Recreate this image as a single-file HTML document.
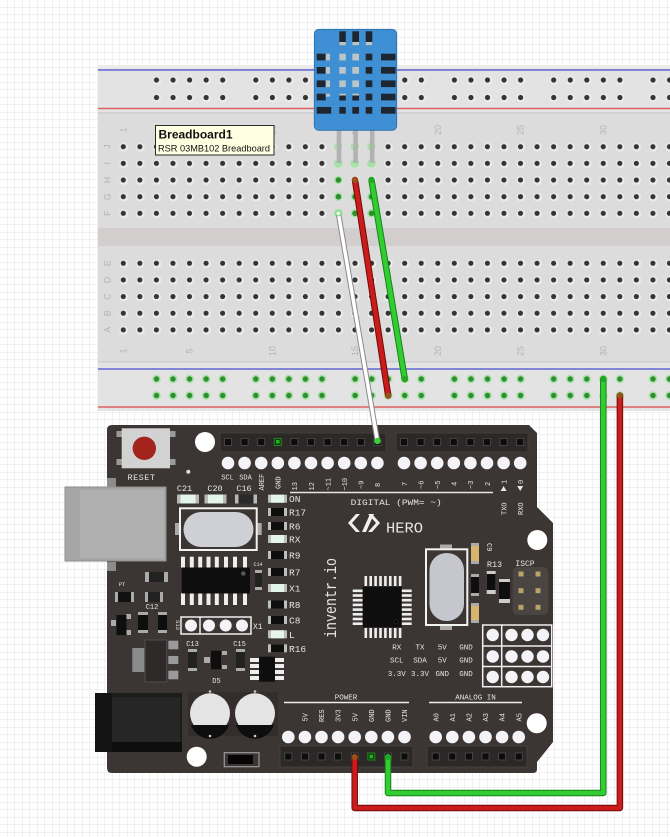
<!DOCTYPE html>
<html><head><meta charset="utf-8"><style>
html,body{margin:0;padding:0;background:#fff;overflow:hidden}
svg{display:block}
.s{font-family:"Liberation Mono",monospace;fill:#e6e6e6}
.bl{font-family:"Liberation Sans",sans-serif;fill:#b4b4b4;font-size:9px}
</style></head><body>
<svg width="670" height="837" viewBox="0 0 670 837" xmlns="http://www.w3.org/2000/svg">
<defs>
<pattern id="grid" width="7.5" height="7.5" patternUnits="userSpaceOnUse"><path d="M7.5 0V7.5H0" fill="none" stroke="#e3e3ea" stroke-width="1"/></pattern>
<pattern id="hole" x="115.025" y="138.375" width="16.55" height="16.65" patternUnits="userSpaceOnUse"><circle cx="8.7" cy="8.8" r="4.3" fill="#ececec"/><circle cx="8.275" cy="8.325" r="2.6" fill="#343434"/></pattern>
<pattern id="rail" width="99.3" height="20" patternUnits="userSpaceOnUse">
<g fill="#ececec"><circle cx="8.7" cy="10.4" r="4.3"/><circle cx="25.25" cy="10.4" r="4.3"/><circle cx="41.8" cy="10.4" r="4.3"/><circle cx="58.35" cy="10.4" r="4.3"/><circle cx="74.9" cy="10.4" r="4.3"/></g>
<g fill="#343434"><circle cx="8.275" cy="10" r="2.6"/><circle cx="24.825" cy="10" r="2.6"/><circle cx="41.375" cy="10" r="2.6"/><circle cx="57.925" cy="10" r="2.6"/><circle cx="74.475" cy="10" r="2.6"/></g>
</pattern>
<pattern id="railg" width="99.3" height="20" patternUnits="userSpaceOnUse">
<g fill="#a6e2a6"><circle cx="8.275" cy="10" r="4.3"/><circle cx="24.825" cy="10" r="4.3"/><circle cx="41.375" cy="10" r="4.3"/><circle cx="57.925" cy="10" r="4.3"/><circle cx="74.475" cy="10" r="4.3"/></g>
<g fill="#2f8f2f"><circle cx="8.275" cy="10" r="2.7"/><circle cx="24.825" cy="10" r="2.7"/><circle cx="41.375" cy="10" r="2.7"/><circle cx="57.925" cy="10" r="2.7"/><circle cx="74.475" cy="10" r="2.7"/></g>
</pattern>
</defs>

<rect width="670" height="837" fill="#fff"/>
<rect width="670" height="837" fill="url(#grid)"/>

<!-- Breadboard -->
<rect x="98" y="65" width="580" height="346" fill="#dcdcdc"/>
<rect x="98" y="65" width="580" height="48" fill="#e3e3e3"/>
<rect x="98" y="65" width="580" height="3" fill="#ececec"/>
<rect x="98" y="112" width="580" height="2" fill="#d2d2d2"/>
<rect x="98" y="228" width="580" height="18" fill="#d1cecd"/>
<rect x="98" y="362" width="580" height="49" fill="#e3e3e3"/>
<rect x="98" y="361" width="580" height="1.5" fill="#cfcfcf"/>
<line x1="98" y1="70" x2="678" y2="70" stroke="#4b4bd0" stroke-width="1.3"/>
<line x1="98" y1="108.5" x2="678" y2="108.5" stroke="#e06262" stroke-width="1.4"/>
<line x1="98" y1="369" x2="678" y2="369" stroke="#4b4bd0" stroke-width="1.3"/>
<line x1="98" y1="407" x2="678" y2="407" stroke="#e06262" stroke-width="1.4"/>

<rect x="115" y="138.375" width="570" height="83.25" fill="url(#hole)"/>
<rect x="115" y="254.925" width="570" height="83.25" fill="url(#hole)"/>
<rect x="0" y="0" width="540" height="20" fill="url(#rail)" transform="translate(148.225,70)"/>
<rect x="0" y="0" width="540" height="20" fill="url(#rail)" transform="translate(148.225,87.5)"/>
<rect x="0" y="0" width="540" height="20" fill="url(#railg)" transform="translate(148.225,369)"/>
<rect x="0" y="0" width="540" height="20" fill="url(#railg)" transform="translate(148.225,385.5)"/>

<!-- column numbers -->
<g class="bl" text-anchor="middle">
<text transform="translate(126.3,130) rotate(-90)">1</text>
<text transform="translate(192.5,130) rotate(-90)">5</text>
<text transform="translate(275.3,130) rotate(-90)">10</text>
<text transform="translate(358,130) rotate(-90)">15</text>
<text transform="translate(440.8,130) rotate(-90)">20</text>
<text transform="translate(523.6,130) rotate(-90)">25</text>
<text transform="translate(606.3,130) rotate(-90)">30</text>
<text transform="translate(126.3,351) rotate(-90)">1</text>
<text transform="translate(192.5,351) rotate(-90)">5</text>
<text transform="translate(275.3,351) rotate(-90)">10</text>
<text transform="translate(358,351) rotate(-90)">15</text>
<text transform="translate(440.8,351) rotate(-90)">20</text>
<text transform="translate(523.6,351) rotate(-90)">25</text>
<text transform="translate(606.3,351) rotate(-90)">30</text>
<text transform="translate(110.5,146.7) rotate(-90)">J</text>
<text transform="translate(110.5,163.3) rotate(-90)">I</text>
<text transform="translate(110.5,180) rotate(-90)">H</text>
<text transform="translate(110.5,196.7) rotate(-90)">G</text>
<text transform="translate(110.5,213.3) rotate(-90)">F</text>
<text transform="translate(110.5,263.3) rotate(-90)">E</text>
<text transform="translate(110.5,280) rotate(-90)">D</text>
<text transform="translate(110.5,296.6) rotate(-90)">C</text>
<text transform="translate(110.5,313.2) rotate(-90)">B</text>
<text transform="translate(110.5,329.8) rotate(-90)">A</text>
</g>

<!-- green highlighted holes cols 14-16 -->
<g fill="#a6e2a6">
<circle cx="338.4" cy="146.7" r="4.3"/><circle cx="355" cy="146.7" r="4.3"/><circle cx="371.5" cy="146.7" r="4.3"/>
<circle cx="338.4" cy="163.3" r="4.5"/><circle cx="355" cy="163.3" r="4.5"/><circle cx="371.5" cy="163.3" r="4.5"/>
<circle cx="338.4" cy="180" r="4.3"/>
<circle cx="338.4" cy="196.7" r="4.3"/><circle cx="355" cy="196.7" r="4.3"/><circle cx="371.5" cy="196.7" r="4.3"/>
<circle cx="338.4" cy="213.3" r="4.5"/><circle cx="355" cy="213.3" r="4.3"/><circle cx="371.5" cy="213.3" r="4.3"/>
</g>
<g fill="#2f8f2f">
<circle cx="338.4" cy="180" r="2.8"/>
<circle cx="338.4" cy="196.7" r="2.8"/><circle cx="355" cy="196.7" r="2.8"/><circle cx="371.5" cy="196.7" r="2.8"/>
<circle cx="355" cy="213.3" r="2.8"/><circle cx="371.5" cy="213.3" r="2.8"/>
</g>

<!-- DHT11 sensor -->
<rect x="336.7" y="125" width="4.6" height="38" fill="#b2b2b2"/>
<rect x="353.3" y="125" width="4.6" height="38" fill="#b2b2b2"/>
<rect x="369.9" y="125" width="4.6" height="38" fill="#b2b2b2"/>
<rect x="314.3" y="29.3" width="82.4" height="101" rx="4.5" fill="#3e8fd3" stroke="#2c6ea6" stroke-width="0.8"/>
<g fill="#1e2631">
<rect x="339.3" y="31.3" width="6.5" height="14"/><rect x="352.3" y="31.3" width="6.7" height="14"/><rect x="365.7" y="31.3" width="6.6" height="14"/>
<rect x="316.7" y="53.7" width="9" height="6.7"/><rect x="316.7" y="67" width="9" height="6.7"/><rect x="316.7" y="80.4" width="9" height="6.7"/><rect x="316.7" y="93.7" width="9" height="6.7"/><rect x="316.7" y="107" width="14.5" height="6.7"/>
<rect x="339.3" y="95.5" width="6.5" height="5"/><rect x="352.3" y="95.5" width="6.7" height="5"/>
<rect x="339.3" y="107" width="6.5" height="6.7"/><rect x="352.3" y="107" width="6.7" height="6.7"/>
<rect x="365.7" y="53.7" width="6.6" height="6.7"/><rect x="365.7" y="67" width="6.6" height="6.7"/><rect x="365.7" y="80.4" width="6.6" height="6.7"/><rect x="365.7" y="93.7" width="6.6" height="6.7"/><rect x="365.7" y="107" width="6.6" height="6.7"/>
<rect x="381" y="53.7" width="14.5" height="6.7"/><rect x="381" y="67" width="14.5" height="6.7"/><rect x="381" y="80.4" width="14.5" height="6.7"/><rect x="381" y="93.7" width="14.5" height="6.7"/><rect x="381" y="107" width="14.5" height="6.7"/>
</g>
<g fill="#b9c5c9">
<rect x="339.3" y="42" width="6.5" height="3.3"/><rect x="352.3" y="42" width="6.7" height="3.3"/><rect x="365.7" y="42" width="6.6" height="3.3"/>
<rect x="325.7" y="53.7" width="4.3" height="6.7"/><rect x="325.7" y="67" width="4.3" height="6.7"/><rect x="325.7" y="80.4" width="4.3" height="6.7"/><rect x="325.7" y="93.7" width="4.3" height="3"/>
<rect x="339.3" y="53.7" width="6.5" height="6.7"/><rect x="339.3" y="67" width="6.5" height="6.7"/><rect x="339.3" y="80.4" width="6.5" height="6.7"/><rect x="339.3" y="93.7" width="6.5" height="1.8"/>
<rect x="352.3" y="53.7" width="6.7" height="6.7"/><rect x="352.3" y="67" width="6.7" height="6.7"/><rect x="352.3" y="80.4" width="6.7" height="6.7"/><rect x="352.3" y="93.7" width="6.7" height="1.8"/>
</g>

<!-- tooltip -->
<rect x="155.5" y="125.5" width="118.5" height="29.5" fill="#ffffe1" stroke="#2a2a2a" stroke-width="1"/>
<text x="158.5" y="138.5" font-family="Liberation Sans,sans-serif" font-weight="bold" font-size="12" fill="#111">Breadboard1</text>
<text x="158" y="151.7" font-family="Liberation Sans,sans-serif" font-size="9.4" fill="#111" textLength="112" lengthAdjust="spacingAndGlyphs">RSR 03MB102 Breadboard</text>

<!-- Arduino board -->
<path d="M112,425 L529,425 L537,433 L537,507 L553,523 L553,742 L537,762 L537,769 Q537,773 533,773 L112,773 Q107,773 107,768 L107,430 Q107,425 112,425 Z" fill="#3b3533"/>

<!-- USB -->
<rect x="107" y="478" width="9" height="9" fill="#8c8c8c"/>
<rect x="107" y="562" width="9" height="9" fill="#8c8c8c"/>
<rect x="65" y="487" width="101" height="74" fill="#a6a6a6"/>
<rect x="80" y="490" width="84" height="68" fill="#b0b0b0"/>
<rect x="65" y="487" width="101" height="74" fill="none" stroke="#8e8e8e" stroke-width="1"/>

<!-- Reset -->
<g fill="#9a9a9a"><rect x="116.5" y="431" width="6" height="6"/><rect x="116.5" y="459" width="6" height="6"/><rect x="169.5" y="431" width="6" height="6"/><rect x="169.5" y="459" width="6" height="6"/></g>
<rect x="121.7" y="428.3" width="48.3" height="40" fill="#d2d2d2"/>
<circle cx="144.3" cy="448.3" r="11.7" fill="#a3241d"/>
<text class="s" x="141.5" y="480" font-size="8.5" text-anchor="middle" letter-spacing="0.5">RESET</text>
<circle cx="188.3" cy="471.7" r="2" fill="#ddd"/>

<!-- mounting holes -->
<circle cx="205" cy="442" r="10" fill="#fff"/>
<circle cx="537.3" cy="540" r="10" fill="#fff"/>
<circle cx="196.7" cy="756.7" r="10" fill="#fff"/>
<circle cx="536.7" cy="723.3" r="10" fill="#fff"/>

<!-- top headers -->
<rect x="220" y="433" width="166" height="19" fill="#2c2827" stroke="#454040" stroke-width="0.8"/>
<rect x="396" y="433" width="132" height="19" fill="#2c2827" stroke="#454040" stroke-width="0.8"/>
<g fill="#0c0c0c" stroke="#4e4e4e" stroke-width="0.8">
<rect x="224.5" y="438.5" width="7" height="7"/><rect x="241.1" y="438.5" width="7" height="7"/><rect x="257.7" y="438.5" width="7" height="7"/><rect x="290.9" y="438.5" width="7" height="7"/><rect x="307.5" y="438.5" width="7" height="7"/><rect x="324.1" y="438.5" width="7" height="7"/><rect x="340.7" y="438.5" width="7" height="7"/><rect x="357.3" y="438.5" width="7" height="7"/><rect x="373.9" y="438.5" width="7" height="7"/>
<rect x="400.5" y="438.5" width="7" height="7"/><rect x="417.1" y="438.5" width="7" height="7"/><rect x="433.7" y="438.5" width="7" height="7"/><rect x="450.3" y="438.5" width="7" height="7"/><rect x="466.9" y="438.5" width="7" height="7"/><rect x="483.5" y="438.5" width="7" height="7"/><rect x="500.1" y="438.5" width="7" height="7"/><rect x="516.7" y="438.5" width="7" height="7"/>
</g>
<rect x="274.3" y="438.5" width="7" height="7" fill="#0c3a0c" stroke="#1e8a1e" stroke-width="1"/>
<rect x="276" y="440" width="3.6" height="3.6" fill="#25b025"/>
<g fill="#f4f4f8">
<circle cx="228" cy="463" r="6.3"/><circle cx="244.6" cy="463" r="6.3"/><circle cx="261.2" cy="463" r="6.3"/><circle cx="277.8" cy="463" r="6.3"/><circle cx="294.4" cy="463" r="6.3"/><circle cx="311" cy="463" r="6.3"/><circle cx="327.6" cy="463" r="6.3"/><circle cx="344.2" cy="463" r="6.3"/><circle cx="360.8" cy="463" r="6.3"/><circle cx="377.4" cy="463" r="6.3"/>
<circle cx="404" cy="463" r="6.3"/><circle cx="420.6" cy="463" r="6.3"/><circle cx="437.2" cy="463" r="6.3"/><circle cx="453.8" cy="463" r="6.3"/><circle cx="470.4" cy="463" r="6.3"/><circle cx="487" cy="463" r="6.3"/><circle cx="503.6" cy="463" r="6.3"/><circle cx="520.2" cy="463" r="6.3"/>
</g>
<g class="s" font-size="7">
<text x="227.5" y="479.5" text-anchor="middle">SCL</text>
<text x="245.5" y="479.5" text-anchor="middle">SDA</text>
<text transform="translate(264,490.5) rotate(-90)">AREF</text>
<text transform="translate(280.6,489) rotate(-90)">GND</text>
<text transform="translate(297.2,490.5) rotate(-90)">13</text>
<text transform="translate(313.8,490.5) rotate(-90)">12</text>
<text transform="translate(330.4,490.5) rotate(-90)">~11</text>
<text transform="translate(347,490.5) rotate(-90)">~10</text>
<text transform="translate(363.6,489) rotate(-90)">~9</text>
<text transform="translate(380.2,487) rotate(-90)">8</text>
<text transform="translate(406.8,486) rotate(-90)">7</text>
<text transform="translate(423.4,489) rotate(-90)">~6</text>
<text transform="translate(440,489) rotate(-90)">~5</text>
<text transform="translate(456.6,486) rotate(-90)">4</text>
<text transform="translate(473.2,489) rotate(-90)">~3</text>
<text transform="translate(489.8,486) rotate(-90)">2</text>
<text transform="translate(506.4,484) rotate(-90)">1</text>
<text transform="translate(523,484) rotate(-90)">0</text>
<text transform="translate(506.4,515) rotate(-90)">TXO</text>
<text transform="translate(523,515) rotate(-90)">RXO</text>
</g>
<path d="M500.6,491 L503.6,486 L506.6,491 Z" fill="#e6e6e6"/>
<path d="M517.2,486 L523.2,486 L520.2,491 Z" fill="#e6e6e6"/>
<line x1="290" y1="492.5" x2="493" y2="492.5" stroke="#e6e6e6" stroke-width="1.4"/>
<text class="s" x="350.7" y="505" font-size="8" textLength="91" lengthAdjust="spacingAndGlyphs">DIGITAL (PWM=  ~)</text>

<!-- HERO logo -->
<g fill="#f0f0f0">
<path d="M356,514 L348,523 L356,532 L360,532 L352,523 L360,514 Z"/>
<path d="M362,532 L366,532 L374,514 L370,514 Z"/>
<path d="M372,532 L380,523 L372,514 L376,514 L384,523 L376,532 Z" transform="translate(-4,0)"/>
</g>
<text class="s" x="386" y="532.5" font-size="15" fill="#f0f0f0" textLength="37" lengthAdjust="spacingAndGlyphs">HERO</text>

<!-- C21 C20 C16 -->
<g class="s" font-size="8.5" text-anchor="middle">
<text x="184.5" y="491">C21</text><text x="215" y="491">C20</text><text x="244" y="491">C16</text>
</g>
<g>
<rect x="177" y="494.5" width="22" height="9" fill="#b8b8b8"/><rect x="180.5" y="494.5" width="15" height="9" fill="#e4f6ea"/>
<rect x="204.5" y="494.5" width="22" height="9" fill="#b8b8b8"/><rect x="208" y="494.5" width="15" height="9" fill="#e4f6ea"/>
<rect x="235" y="494.5" width="22" height="9" fill="#b8b8b8"/><rect x="238.5" y="494.5" width="15" height="9" fill="#2a2a2a"/>
</g>

<!-- crystal left -->
<rect x="175" y="523" width="6" height="12" fill="#aaa"/><rect x="255.7" y="523" width="6" height="12" fill="#aaa"/>
<rect x="180" y="508.3" width="76.7" height="41.7" fill="#3b3533" stroke="#f2f2f2" stroke-width="2"/>
<rect x="183.5" y="512" width="70" height="35" rx="17.5" fill="#cfcfd6"/>

<!-- SOIC chip -->
<g fill="#eeeeee">
<rect x="181" y="556.7" width="4" height="11"/><rect x="189.8" y="556.7" width="4" height="11"/><rect x="198.2" y="556.7" width="4" height="11"/><rect x="206.5" y="556.7" width="4" height="11"/><rect x="214.8" y="556.7" width="4" height="11"/><rect x="224" y="556.7" width="4" height="11"/><rect x="233" y="556.7" width="4" height="11"/><rect x="243" y="556.7" width="4" height="11"/>
<rect x="181" y="593" width="4" height="12"/><rect x="189.8" y="593" width="4" height="12"/><rect x="198.2" y="593" width="4" height="12"/><rect x="206.5" y="593" width="4" height="12"/><rect x="214.8" y="593" width="4" height="12"/><rect x="224" y="593" width="4" height="12"/><rect x="233" y="593" width="4" height="12"/><rect x="243" y="593" width="4" height="12"/>
</g>
<rect x="181.7" y="567.5" width="68.3" height="26" fill="#0e0e0e"/>
<circle cx="243.3" cy="573.5" r="2.3" fill="#555"/>
<text class="s" x="258" y="566" font-size="5" text-anchor="middle">C14</text>
<rect x="255" y="570" width="7" height="20" fill="#aaa"/><rect x="255" y="573" width="7" height="14" fill="#222"/>

<!-- SMD column -->
<g>
<rect x="268" y="494.7" width="19" height="8" fill="#bdbdbd"/><rect x="271" y="494.7" width="13" height="8" fill="#e4f6ea"/>
<rect x="268" y="508" width="19" height="8" fill="#bdbdbd"/><rect x="271" y="508" width="13" height="8" fill="#0e0e0e"/>
<rect x="268" y="522" width="19" height="8" fill="#bdbdbd"/><rect x="271" y="522" width="13" height="8" fill="#0e0e0e"/>
<rect x="268" y="535" width="19" height="8" fill="#bdbdbd"/><rect x="271" y="535" width="13" height="8" fill="#e4f6ea"/>
<rect x="268" y="551" width="19" height="8" fill="#bdbdbd"/><rect x="271" y="551" width="13" height="8" fill="#0e0e0e"/>
<rect x="268" y="568" width="19" height="8" fill="#bdbdbd"/><rect x="271" y="568" width="13" height="8" fill="#0e0e0e"/>
<rect x="268" y="584" width="19" height="8" fill="#bdbdbd"/><rect x="271" y="584" width="13" height="8" fill="#e4f6ea"/>
<rect x="268" y="600.5" width="19" height="8" fill="#bdbdbd"/><rect x="271" y="600.5" width="13" height="8" fill="#0e0e0e"/>
<rect x="268" y="616" width="19" height="8" fill="#bdbdbd"/><rect x="271" y="616" width="13" height="8" fill="#0e0e0e"/>
<rect x="268" y="630.3" width="19" height="8" fill="#bdbdbd"/><rect x="271" y="630.3" width="13" height="8" fill="#e4f6ea"/>
<rect x="268" y="644.3" width="19" height="8" fill="#bdbdbd"/><rect x="271" y="644.3" width="13" height="8" fill="#0e0e0e"/>
</g>
<g class="s" font-size="9.5">
<text x="289" y="502">ON</text><text x="289" y="515.5">R17</text><text x="289" y="529.5">R6</text><text x="289" y="542.5">RX</text>
<text x="289" y="558.5">R9</text><text x="289" y="575.5">R7</text><text x="289" y="591.5">X1</text><text x="289" y="608">R8</text>
<text x="289" y="623.5">C8</text><text x="289" y="638">L</text><text x="289" y="652">R16</text>
</g>

<!-- inventr.io -->
<text class="s" transform="translate(336,638) rotate(-90)" font-size="17" fill="#f0f0f0" textLength="80" lengthAdjust="spacingAndGlyphs">inventr.io</text>

<!-- left small parts -->
<text class="s" x="122" y="586" font-size="5.5" text-anchor="middle">PT</text>
<rect x="145" y="572" width="23" height="10" fill="#aaa"/><rect x="149" y="572" width="15" height="10" fill="#222"/>
<rect x="115" y="592" width="19" height="10" fill="#aaa"/><rect x="118" y="592" width="13" height="10" fill="#111"/>
<rect x="145" y="592" width="18" height="10" fill="#aaa"/><rect x="148" y="592" width="12" height="10" fill="#222"/>
<text class="s" x="152" y="609" font-size="7" text-anchor="middle">C12</text>
<rect x="111" y="620" width="5" height="6" fill="#aaa"/><rect x="126" y="614" width="5" height="5" fill="#aaa"/><rect x="126" y="630" width="5" height="5" fill="#aaa"/>
<rect x="116.5" y="615" width="10" height="20" fill="#0e0e0e"/>
<rect x="138" y="612" width="10" height="21" fill="#aaa"/><rect x="138" y="615" width="10" height="15" fill="#0e0e0e"/>
<rect x="158" y="612" width="9" height="21" fill="#aaa"/><rect x="158" y="615" width="9" height="15" fill="#0e0e0e"/>
<text class="s" transform="translate(176,625) rotate(90)" font-size="5.5" text-anchor="middle">S13</text>
<!-- X1 header -->
<rect x="181" y="617" width="70" height="17" fill="none" stroke="#f0f0f0" stroke-width="1.5"/>
<line x1="200" y1="617" x2="200" y2="634" stroke="#f0f0f0" stroke-width="1.5"/>
<g fill="#f4f4f8"><circle cx="191" cy="625.5" r="6"/><circle cx="209" cy="625.5" r="6"/><circle cx="225.7" cy="625.5" r="6"/><circle cx="242" cy="625.5" r="6"/></g>
<text class="s" x="253" y="629" font-size="8">X1</text>

<!-- regulator -->
<rect x="132.3" y="648" width="12" height="24" fill="#8a8a8a"/>
<rect x="145" y="640" width="21.7" height="42" fill="#2e2a29" stroke="#555" stroke-width="0.8"/>
<g fill="#9a9a9a"><rect x="168.3" y="640.7" width="10" height="8.6"/><rect x="168.3" y="656" width="10" height="8"/><rect x="168.3" y="670.7" width="10" height="8.6"/></g>
<g class="s" font-size="7" text-anchor="middle"><text x="192.5" y="646">C13</text><text x="239.5" y="646">C15</text><text x="216.5" y="683">D5</text></g>
<rect x="188" y="649" width="9" height="22" fill="#aaa"/><rect x="188" y="652" width="9" height="16" fill="#222"/>
<rect x="236" y="649" width="9" height="22" fill="#aaa"/><rect x="236" y="652" width="9" height="16" fill="#222"/>
<g fill="#aaa"><rect x="204" y="657" width="6" height="6"/><rect x="222" y="651" width="5" height="4"/><rect x="222" y="665" width="5" height="4"/></g>
<rect x="211" y="650.7" width="10" height="18.6" fill="#0e0e0e"/>
<!-- 8 pin IC -->
<g fill="#eeeeee"><rect x="250" y="658" width="9" height="4"/><rect x="250" y="664" width="9" height="4"/><rect x="250" y="670" width="9" height="4"/><rect x="250" y="676" width="9" height="4"/>
<rect x="275" y="658" width="9" height="4"/><rect x="275" y="664" width="9" height="4"/><rect x="275" y="670" width="9" height="4"/><rect x="275" y="676" width="9" height="4"/></g>
<rect x="259" y="656.7" width="16" height="25" fill="#0e0e0e"/>

<!-- power jack -->
<rect x="95" y="693" width="87" height="59" fill="#1c1c1c"/>
<rect x="112" y="697" width="68" height="45" fill="#262626"/>
<rect x="95" y="693" width="17" height="59" fill="#141414"/>
<rect x="112" y="742" width="70" height="10" fill="#0e0e0e"/>

<!-- electrolytic caps -->
<rect x="188" y="692" width="45" height="44" fill="#332e2d"/>
<rect x="233" y="692" width="45" height="44" fill="#332e2d"/>
<circle cx="210" cy="713.3" r="20" fill="#e4e4e4"/>
<path d="M191,725 A20,20 0 0 0 229,725 Z" fill="#0e0e0e"/>
<circle cx="255" cy="713.3" r="20" fill="#e4e4e4"/>
<path d="M236,725 A20,20 0 0 0 274,725 Z" fill="#0e0e0e"/>
<g fill="#ccc"><circle cx="210" cy="691.5" r="1.3"/><circle cx="210" cy="736" r="1.3"/><circle cx="255" cy="691.5" r="1.3"/><circle cx="255" cy="736" r="1.3"/></g>
<!-- switch -->
<rect x="224.3" y="752.7" width="34.7" height="14" fill="#3b3533" stroke="#9a9a9a" stroke-width="1.2"/>
<rect x="228" y="755" width="25" height="9" fill="#050505"/>

<!-- ATmega -->
<g fill="#eeeeee">
<rect x="364.5" y="576" width="2.6" height="10"/><rect x="369.4" y="576" width="2.6" height="10"/><rect x="374.3" y="576" width="2.6" height="10"/><rect x="379.2" y="576" width="2.6" height="10"/><rect x="384.1" y="576" width="2.6" height="10"/><rect x="389" y="576" width="2.6" height="10"/><rect x="393.9" y="576" width="2.6" height="10"/><rect x="398.8" y="576" width="2.6" height="10"/>
<rect x="364.5" y="628" width="2.6" height="10"/><rect x="369.4" y="628" width="2.6" height="10"/><rect x="374.3" y="628" width="2.6" height="10"/><rect x="379.2" y="628" width="2.6" height="10"/><rect x="384.1" y="628" width="2.6" height="10"/><rect x="389" y="628" width="2.6" height="10"/><rect x="393.9" y="628" width="2.6" height="10"/><rect x="398.8" y="628" width="2.6" height="10"/>
<rect x="352.7" y="589.5" width="10" height="2.6"/><rect x="352.7" y="594.2" width="10" height="2.6"/><rect x="352.7" y="598.9" width="10" height="2.6"/><rect x="352.7" y="603.6" width="10" height="2.6"/><rect x="352.7" y="608.3" width="10" height="2.6"/><rect x="352.7" y="613" width="10" height="2.6"/><rect x="352.7" y="617.7" width="10" height="2.6"/><rect x="352.7" y="622.4" width="10" height="2.6"/>
<rect x="401.7" y="589.5" width="10" height="2.6"/><rect x="401.7" y="594.2" width="10" height="2.6"/><rect x="401.7" y="598.9" width="10" height="2.6"/><rect x="401.7" y="603.6" width="10" height="2.6"/><rect x="401.7" y="608.3" width="10" height="2.6"/><rect x="401.7" y="613" width="10" height="2.6"/><rect x="401.7" y="617.7" width="10" height="2.6"/><rect x="401.7" y="622.4" width="10" height="2.6"/>
</g>
<rect x="362.7" y="586.7" width="39" height="40.6" fill="#0e0e0e"/>
<circle cx="396" cy="621.5" r="2" fill="#000" stroke="#333" stroke-width="0.5"/>

<!-- crystal right -->
<rect x="440" y="544.5" width="12" height="9" fill="#aaa"/><rect x="440" y="621" width="12" height="9" fill="#aaa"/>
<rect x="426" y="549.3" width="41.3" height="75.7" fill="#3b3533" stroke="#f2f2f2" stroke-width="2"/>
<rect x="429.5" y="553" width="34.5" height="68" rx="17" fill="#c6c6ce"/>
<!-- caps / resistors -->
<rect x="471" y="543" width="8" height="21" fill="#aaa"/><rect x="471" y="546" width="8" height="15" fill="#d8b56c"/>
<rect x="471" y="574" width="8" height="22" fill="#aaa"/><rect x="471" y="577" width="8" height="16" fill="#0e0e0e"/>
<rect x="471" y="603" width="8" height="20" fill="#aaa"/><rect x="471" y="606" width="8" height="14" fill="#d8b56c"/>
<rect x="486.7" y="571" width="9" height="23" fill="#ccc"/><rect x="486.7" y="574" width="9" height="16" fill="#0e0e0e"/>
<rect x="499" y="579" width="11" height="24" fill="#ccc"/><rect x="499" y="582" width="11" height="17" fill="#0e0e0e"/>
<text class="s" transform="translate(487,543) rotate(90)" font-size="7">C9</text>
<text class="s" x="494.5" y="567" font-size="8.5" text-anchor="middle">R13</text>
<text class="s" x="525" y="566" font-size="8" text-anchor="middle">ISCP</text>
<rect x="512.7" y="567" width="35.6" height="48" rx="5" fill="#4a4443"/>
<g fill="#b8a468"><rect x="518.5" y="571.5" width="5" height="5"/><rect x="535.5" y="571.5" width="5" height="5"/><rect x="518.5" y="588.2" width="5" height="5"/><rect x="535.5" y="588.2" width="5" height="5"/><rect x="518.5" y="604.8" width="5" height="5"/><rect x="535.5" y="604.8" width="5" height="5"/></g>

<!-- pin header block -->
<rect x="482.7" y="625" width="69" height="61.7" fill="none" stroke="#f0f0f0" stroke-width="1.5"/>
<line x1="501.7" y1="625" x2="501.7" y2="686.7" stroke="#f0f0f0" stroke-width="1.5"/>
<line x1="482.7" y1="646" x2="551.7" y2="646" stroke="#f0f0f0" stroke-width="1.5"/>
<line x1="482.7" y1="666.5" x2="551.7" y2="666.5" stroke="#f0f0f0" stroke-width="1.5"/>
<g fill="#f4f4f8">
<circle cx="492.7" cy="635" r="6.2"/><circle cx="511.5" cy="635" r="6.2"/><circle cx="527.5" cy="635" r="6.2"/><circle cx="543" cy="635" r="6.2"/>
<circle cx="492.7" cy="656.5" r="6.2"/><circle cx="511.5" cy="656.5" r="6.2"/><circle cx="527.5" cy="656.5" r="6.2"/><circle cx="543" cy="656.5" r="6.2"/>
<circle cx="492.7" cy="677" r="6.2"/><circle cx="511.5" cy="677" r="6.2"/><circle cx="527.5" cy="677" r="6.2"/><circle cx="543" cy="677" r="6.2"/>
</g>
<g class="s" font-size="7.5" text-anchor="middle">
<text x="396.7" y="649.5">RX</text><text x="420" y="649.5">TX</text><text x="442.3" y="649.5">5V</text><text x="466" y="649.5">GND</text>
<text x="396.7" y="662.5">SCL</text><text x="420" y="662.5">SDA</text><text x="442.3" y="662.5">5V</text><text x="466" y="662.5">GND</text>
<text x="396.7" y="676">3.3V</text><text x="420" y="676">3.3V</text><text x="442.3" y="676">GND</text><text x="466" y="676">GND</text>
<text x="346" y="699.5">POWER</text><text x="475.5" y="699.5">ANALOG IN</text>
</g>
<line x1="284" y1="702.5" x2="409" y2="702.5" stroke="#eeeeee" stroke-width="1.4"/>
<line x1="429" y1="702.5" x2="522" y2="702.5" stroke="#eeeeee" stroke-width="1.4"/>
<g class="s" font-size="7">
<text transform="translate(307.5,721.5) rotate(-90)">5V</text>
<text transform="translate(324.1,722) rotate(-90)">RES</text>
<text transform="translate(340.7,722) rotate(-90)">3V3</text>
<text transform="translate(357.3,721.5) rotate(-90)">5V</text>
<text transform="translate(373.9,722) rotate(-90)">GND</text>
<text transform="translate(390.5,722) rotate(-90)">GND</text>
<text transform="translate(407.1,722) rotate(-90)">VIN</text>
<text transform="translate(438.3,721.5) rotate(-90)">A0</text>
<text transform="translate(454.9,721.5) rotate(-90)">A1</text>
<text transform="translate(471.5,721.5) rotate(-90)">A2</text>
<text transform="translate(488.1,721.5) rotate(-90)">A3</text>
<text transform="translate(504.7,721.5) rotate(-90)">A4</text>
<text transform="translate(521.3,721.5) rotate(-90)">A5</text>
</g>
<!-- bottom headers -->
<g fill="#f4f4f8">
<circle cx="288.3" cy="737" r="6.3"/><circle cx="304.9" cy="737" r="6.3"/><circle cx="321.5" cy="737" r="6.3"/><circle cx="338.1" cy="737" r="6.3"/><circle cx="354.7" cy="737" r="6.3"/><circle cx="371.3" cy="737" r="6.3"/><circle cx="387.9" cy="737" r="6.3"/><circle cx="404.5" cy="737" r="6.3"/>
<circle cx="435.7" cy="737" r="6.3"/><circle cx="452.3" cy="737" r="6.3"/><circle cx="468.9" cy="737" r="6.3"/><circle cx="485.5" cy="737" r="6.3"/><circle cx="502.1" cy="737" r="6.3"/><circle cx="518.7" cy="737" r="6.3"/>
</g>
<rect x="280" y="746" width="133" height="21" fill="#2c2827" stroke="#4a4544" stroke-width="0.8"/>
<rect x="427" y="746" width="100" height="21" fill="#2c2827" stroke="#4a4544" stroke-width="0.8"/>
<g fill="#0c0c0c" stroke="#4e4e4e" stroke-width="0.8">
<rect x="284.8" y="753" width="7" height="7"/><rect x="301.4" y="753" width="7" height="7"/><rect x="318" y="753" width="7" height="7"/><rect x="334.6" y="753" width="7" height="7"/><rect x="351.2" y="753" width="7" height="7"/><rect x="384.4" y="753" width="7" height="7"/><rect x="401" y="753" width="7" height="7"/>
<rect x="432.2" y="753" width="7" height="7"/><rect x="448.8" y="753" width="7" height="7"/><rect x="465.4" y="753" width="7" height="7"/><rect x="482" y="753" width="7" height="7"/><rect x="498.6" y="753" width="7" height="7"/><rect x="515.2" y="753" width="7" height="7"/>
</g>
<rect x="367.8" y="753" width="7" height="7" fill="#0c3a0c" stroke="#1e8a1e" stroke-width="1"/>
<rect x="369.5" y="754.7" width="3.6" height="3.6" fill="#25b025"/>

<!-- Wires -->
<g fill="none" stroke-linecap="round" stroke-linejoin="round">
<path d="M338.4,213.3 L377.4,441" stroke="#8a8a8a" stroke-width="5.5"/>
<path d="M338.4,213.3 L377.4,441" stroke="#ffffff" stroke-width="3.5"/>
<path d="M355,180 L388.2,395.5" stroke="#6e0b0b" stroke-width="6.5"/>
<path d="M355,180 L388.2,395.5" stroke="#cc1b1b" stroke-width="4.5"/>
<path d="M371.5,180 L404.8,379" stroke="#138513" stroke-width="6.5"/>
<path d="M371.5,180 L404.8,379" stroke="#34cc34" stroke-width="4.5"/>
<path d="M603.3,379 L603.3,793 L388,793 L388,757" stroke="#138513" stroke-width="6.5"/>
<path d="M603.3,379 L603.3,793 L388,793 L388,757" stroke="#34cc34" stroke-width="4.5"/>
<path d="M619.9,395.5 L619.9,808 L354.7,808 L354.7,757" stroke="#6e0b0b" stroke-width="6.5"/>
<path d="M619.9,395.5 L619.9,808 L354.7,808 L354.7,757" stroke="#cc1b1b" stroke-width="4.5"/>
</g>
<g>
<circle cx="355" cy="180" r="3" fill="#9a5314"/>
<circle cx="388.2" cy="395.5" r="3" fill="#9a5314"/>
<circle cx="619.9" cy="395.5" r="3" fill="#9a5314"/>
<circle cx="354.7" cy="757" r="3" fill="#9a5314"/>
<circle cx="371.5" cy="180" r="3" fill="#22a822"/>
<circle cx="404.8" cy="379" r="3" fill="#22a822"/>
<circle cx="603.3" cy="379" r="3" fill="#22a822"/>
<circle cx="388" cy="757" r="3" fill="#22a822"/>
<circle cx="338.4" cy="213.3" r="2.6" fill="#e8f8e8" stroke="#7fd07f" stroke-width="1"/>
<circle cx="377.4" cy="441" r="3.2" fill="#3ccf3c"/>
</g>
</svg>
</body></html>
